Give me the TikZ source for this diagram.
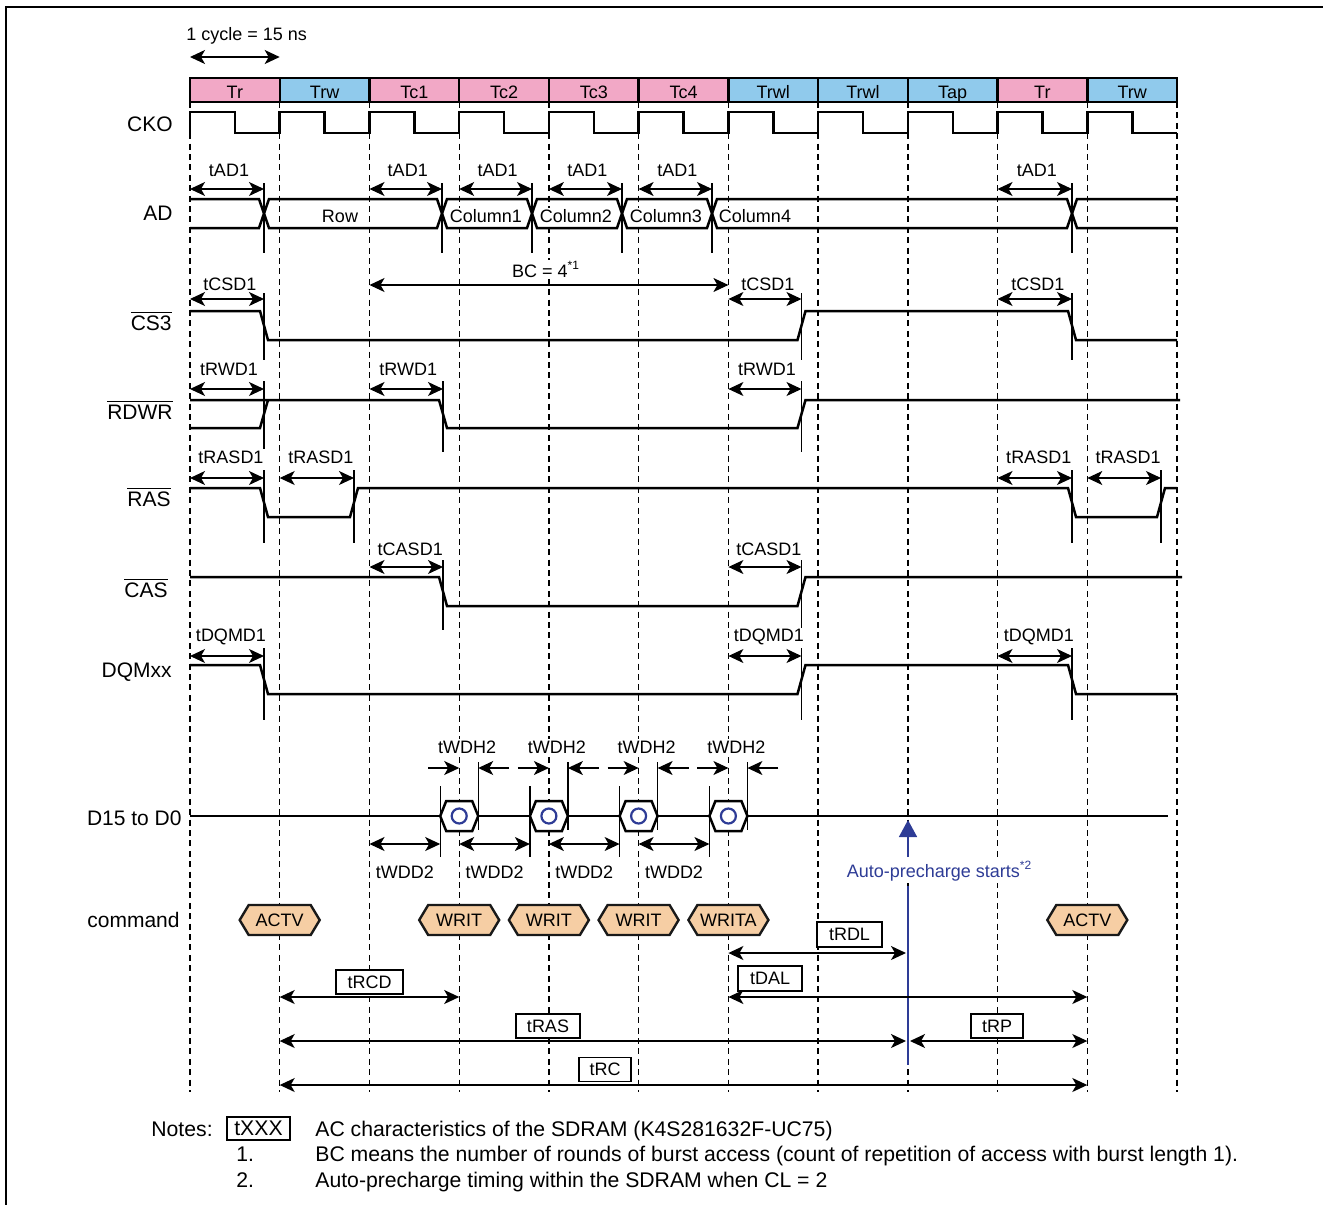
\documentclass[tikz,border=0pt]{standalone}
\usepackage{fontspec}
\setmainfont{Liberation Sans}
\usetikzlibrary{arrows.meta}
\definecolor{cpink}{RGB}{242,168,198}
\definecolor{cblue}{RGB}{144,202,236}
\definecolor{cpeach}{RGB}{246,206,164}
\definecolor{dblue}{RGB}{46,60,150}
\begin{document}
\begin{tikzpicture}[x=0.5pt,y=-0.5pt,
  sig/.style={line width=1.25pt},
  gridl/.style={line width=0.7pt, dash pattern=on 3pt off 2.2pt},
  tick/.style={line width=0.6pt},
  dim/.style={<->, line width=0.6pt},
  one/.style={->, line width=0.6pt},
  sm/.style={font=\fontsize{9}{10.8}\selectfont, inner sep=0pt},
  lbl/.style={sm, fill=white, inner sep=0.6pt},
  lg/.style={font=\fontsize{10.5}{12.6}\selectfont, inner sep=0pt},
  nt/.style={font=\fontsize{10.6}{12.7}\selectfont, inner sep=0pt},
  tbox/.style={draw, line width=0.7pt, fill=white, sm, inner sep=0pt},
  cmd/.style={fill=cpeach, draw=black!90, line width=1.2pt},
  >={Stealth[length=7.5pt,width=7pt,inset=2pt]}
]
\useasboundingbox (0,0) rectangle (1323,1205);
% frame
\draw[line width=1pt] (6,1205) -- (6,7) -- (1323,7);

% cycle width
\node[sm, anchor=base west] (cyclen) at (186,40.5) {1 cycle = 15 ns};
\draw[dim, line width=0.8pt] (190,57) -- (279.7,57);

% grid
\foreach \x in {190,279.7,369.5,459.2,548.9,638.6,728.4,818.1,907.8,997.5,1087.3,1177}
  \draw[gridl] (\x,102) -- (\x,1092);

% header
\foreach \a/\b/\c/\t [count=\i] in {190/279.7/cpink/Tr, 279.7/369.5/cblue/Trw, 369.5/459.2/cpink/Tc1, 459.2/548.9/cpink/Tc2, 548.9/638.6/cpink/Tc3, 638.6/728.4/cpink/Tc4, 728.4/818.1/cblue/Trwl, 818.1/907.8/cblue/Trwl, 907.8/997.5/cblue/Tap, 997.5/1087.3/cpink/Tr, 1087.3/1177/cblue/Trw}
{
  \draw[fill=\c, line width=1.2pt] (\a,78) rectangle (\b,102);
  \node[sm, anchor=base] (cyc\i) at ({(\a+\b)/2},98.5) {\t};
}

% signal names
\node[lg, anchor=base east] (nCKO) at (173,131.7) {CKO};
\node[lg, anchor=base east] (nAD) at (173,220.5) {AD};
\node[lg, anchor=base east] (nCS) at (172,330) {$\overline{\mbox{CS3}}$};
\node[lg, anchor=base east] (nRDWR) at (173,419) {$\overline{\mbox{RDWR}}$};
\node[lg, anchor=base east] (nRAS) at (171,506) {$\overline{\mbox{RAS}}$};
\node[lg, anchor=base east] (nCAS) at (168,597) {$\overline{\mbox{CAS}}$};
\node[lg, anchor=base east] (nDQM) at (172,677) {DQMxx};
\node[lg, anchor=base east] (nD) at (182,825) {D15 to D0};
\node[lg, anchor=base east] (nCMD) at (180,927) {command};

% CKO
\draw[sig] (190,133) \foreach \i in {0,...,10} { -- ({190+89.727*\i},112) -- ({190+89.727*\i+45},112) -- ({190+89.727*\i+45},133) -- ({190+89.727*(\i+1)},133) };

% AD bus
\draw[sig] (190,199) -- (259,199) -- (264,213.5) -- (259,228) -- (190,228);
\foreach \a/\b in {264/442, 442/532, 532/622, 622/712, 712/1072}
  \draw[sig] (\a,213.5) -- ({\a+5},199) -- ({\b-5},199) -- (\b,213.5) -- ({\b-5},228) -- ({\a+5},228) -- cycle;
\draw[sig] (1177,199) -- (1077,199) -- (1072,213.5) -- (1077,228) -- (1177,228);
\node[lbl, anchor=base] (vRow) at (340,222) {Row};
\node[lbl, anchor=base] (vC1) at (486,222) {Column1};
\node[lbl, anchor=base] (vC2) at (576,222) {Column2};
\node[lbl, anchor=base] (vC3) at (666,222) {Column3};
\node[lbl, anchor=base] (vC4) at (755,222) {Column4};
\foreach \x in {264,442,532,622,712,1072} \draw[tick] (\x,183) -- (\x,253);
\foreach \a/\b [count=\i] in {190/264, 369.5/442, 459.2/532, 548.9/622, 638.6/712, 997.5/1072}
{
  \draw[dim] (\a,189) -- (\b,189);
  \node[lbl, anchor=base] (tad\i) at ({(\a+\b)/2+2},176) {tAD1};
}

% BC
\draw[dim] (369.5,285) -- (728.4,285);
\node[lbl, anchor=base] (bc) at (546,277) {BC = 4\textsuperscript{*1}};

% CS3
\draw[sig] (190,311) -- (260,311) -- (268,340) -- (797.5,340) -- (805.5,311) -- (1068,311) -- (1076,340) -- (1177,340);
\foreach \x in {264,801.5,1072} \draw[tick] (\x,293) -- (\x,360);
\foreach \a/\b [count=\i] in {190/264, 728.4/801.5, 997.5/1072}
{
  \draw[dim] (\a,299) -- (\b,299);
  \node[lbl, anchor=base] (tcs\i) at ({(\a+\b)/2+3},290) {tCSD1};
}

% RDWR
\draw[sig] (190,400) -- (439,400) -- (447,428) -- (797.5,428) -- (805.5,400) -- (1180,400);
\draw[sig] (190,428) -- (260,428) -- (268,400);
\foreach \x in {264,443,801.5} \draw[tick] (\x,381) -- (\x,452);
\foreach \a/\b [count=\i] in {190/264, 369.5/443, 728.4/801.5}
{
  \draw[dim] (\a,389) -- (\b,389);
  \node[lbl, anchor=base] (trw\i) at ({(\a+\b)/2+2},375) {tRWD1};
}

% RAS
\draw[sig] (190,488) -- (260,488) -- (268,517) -- (350,517) -- (358,488) -- (1068,488) -- (1076,517) -- (1157,517) -- (1165,488) -- (1177,488);
\foreach \x in {264,354,1072,1161} \draw[tick] (\x,470) -- (\x,543);
\foreach \a/\b [count=\i] in {190/264, 279.7/354, 997.5/1072, 1087.3/1161}
{
  \draw[dim] (\a,478) -- (\b,478);
  \node[lbl, anchor=base] (tras\i) at ({(\a+\b)/2+4},463) {tRASD1};
}

% CAS
\draw[sig] (190,577) -- (439,577) -- (447,606) -- (797.5,606) -- (805.5,577) -- (1182,577);
\foreach \x in {443,801.5} \draw[tick] (\x,560) -- (\x,630);
\foreach \a/\b [count=\i] in {369.5/443, 728.4/801.5}
{
  \draw[dim] (\a,567) -- (\b,567);
  \node[lbl, anchor=base] (tcas\i) at ({(\a+\b)/2+4},555) {tCASD1};
}

% DQMxx
\draw[sig] (190,665) -- (260,665) -- (268,694) -- (797.5,694) -- (805.5,665) -- (1068,665) -- (1076,694) -- (1177,694);
\foreach \x in {264,801.5,1072} \draw[tick] (\x,648) -- (\x,720);
\foreach \a/\b [count=\i] in {190/264, 728.4/801.5, 997.5/1072}
{
  \draw[dim] (\a,656) -- (\b,656);
  \node[lbl, anchor=base] (tdqm\i) at ({(\a+\b)/2+4},641.5) {tDQMD1};
}

% D15 to D0
\draw[sig] (190,816) -- (1168,816);
\foreach \p/\c [count=\i] in {369.5/459.2, 459.2/548.9, 548.9/638.6, 638.6/728.4}
{
  \draw[sig, fill=white] ({\c-19},816) -- ({\c-13},801) -- ({\c+13},801) -- ({\c+19},816) -- ({\c+13},831) -- ({\c-13},831) -- cycle;
  \draw[dblue, line width=1.1pt] (\c,816) circle[radius=7.5];
  \draw[tick] ({\c-19},786) -- ({\c-19},857);
  \draw[tick] ({\c+19},762) -- ({\c+19},830);
  \draw[one] ({\c-31},768) -- (\c,768);
  \draw[one] ({\c+50},768) -- ({\c+19},768);
  \node[lbl, anchor=base] (twdh\i) at ({\c+8},753) {tWDH2};
  \draw[dim] (\p,844) -- ({\c-19},844);
  \node[lbl, anchor=base] (twdd\i) at ({(\p+\c-19)/2},878) {tWDD2};
}

% commands
\foreach \c/\t [count=\i] in {279.7/ACTV, 459.2/WRIT, 548.9/WRIT, 638.6/WRIT, 728.4/WRITA, 1087.3/ACTV}
{
  \draw[cmd] ({\c-40},920) -- ({\c-31},905) -- ({\c+31},905) -- ({\c+40},920) -- ({\c+31},935) -- ({\c-31},935) -- cycle;
  \node[sm] (cmd\i) at (\c,920) {\t};
}

% auto-precharge
\draw[dblue, line width=0.8pt, -{Triangle[length=8.5pt,width=9pt]}] (908,857) -- (908,820);
\node[sm, text=dblue, fill=white, anchor=base, inner sep=1pt] (apc) at (939.5,877) {Auto-precharge starts\textsuperscript{*2}};
\draw[dblue, line width=0.8pt] (908,886) -- (908,1065);

% SDRAM timings
\draw[dim, line width=0.7pt] (728.4,953) -- (906,953);
\node[tbox, minimum width=32.5pt, minimum height=12.5pt] (brdl) at (849.5,934.5) {tRDL};
\draw[dim, line width=0.7pt] (728.4,997) -- (1087.3,997);
\node[tbox, minimum width=32pt, minimum height=12.5pt] (bdal) at (770,978.5) {tDAL};
\draw[dim, line width=0.7pt] (279.7,997) -- (459.2,997);
\node[tbox, minimum width=33.5pt, minimum height=12pt] (brcd) at (369.5,982) {tRCD};
\draw[dim, line width=0.7pt] (279.7,1041) -- (906,1041);
\node[tbox, minimum width=32pt, minimum height=12pt] (bras) at (548,1026) {tRAS};
\draw[dim, line width=0.7pt] (910,1041) -- (1087.3,1041);
\node[tbox, minimum width=26pt, minimum height=12pt] (brp) at (997,1026) {tRP};
\draw[dim, line width=0.7pt] (279.7,1085) -- (1087.3,1085);
\node[tbox, minimum width=26pt, minimum height=12pt] (brc) at (605,1069.5) {tRC};

% notes
\node[nt, anchor=base west] (notes) at (151,1136) {Notes:};
\node[tbox, nt, minimum width=31.5pt, minimum height=11.5pt] (bx) at (258.5,1128.5) {tXXX};
\node[nt, anchor=base west] (n0) at (315,1136) {AC characteristics of the SDRAM (K4S281632F-UC75)};
\node[nt, anchor=base west] (n1k) at (236,1161) {1.};
\node[nt, anchor=base west] (n1) at (315,1161) {BC means the number of rounds of burst access (count of repetition of access with burst length 1).};
\node[nt, anchor=base west] (n2k) at (236,1187) {2.};
\node[nt, anchor=base west] (n2) at (315,1187) {Auto-precharge timing within the SDRAM when CL = 2};
\end{tikzpicture}
\end{document}
